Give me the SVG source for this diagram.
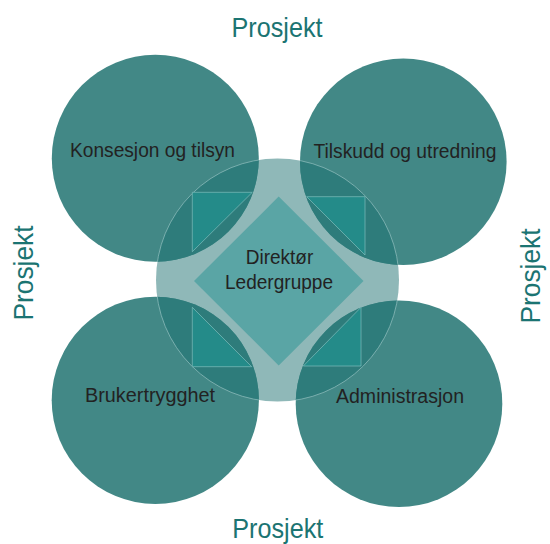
<svg xmlns="http://www.w3.org/2000/svg" width="550" height="544" viewBox="0 0 550 544">
  <style>
    .circle { fill: #428886; }
    .overlap { fill: #2e7c7b; }
    .hub { fill: #8fb8b8; }
    .hub-edge { fill: none; stroke: #a6cccc; stroke-width: 0.6; }
    .corner { fill: #248b89; stroke: #7fbdbb; stroke-width: 0.7; stroke-linejoin: miter; }
    .core { fill: #5aa5a5; }
    .label { font-family: "Liberation Sans", Arial, sans-serif; font-size: 20px; fill: #222222; text-anchor: middle; }
    .project { font-family: "Liberation Sans", Arial, sans-serif; font-size: 28px; fill: #1b7472; text-anchor: middle; }
  </style>
  <defs>
    <clipPath id="hubClip">
      <circle cx="277.5" cy="280" r="121.5"/>
    </clipPath>
    <!-- union of the four unit circles, so the hub rim only shows inside the lenses -->
    <clipPath id="unitClip">
      <circle cx="155.3" cy="158.3" r="103.5"/>
      <circle cx="403.3" cy="161.7" r="103.3"/>
      <circle cx="155.3" cy="400.3" r="103.6"/>
      <circle cx="399" cy="403.7" r="103.3"/>
    </clipPath>
  </defs>

  <rect width="550" height="544" fill="#ffffff"/>

  <!-- central hub disc -->
  <g id="hub">
    <circle class="hub" cx="277.5" cy="280" r="121.5"/>
  </g>

  <!-- four unit circles -->
  <g id="konsesjon">
    <circle class="circle" cx="155.3" cy="158.3" r="103.5"/>
  </g>
  <g id="tilskudd">
    <circle class="circle" cx="403.3" cy="161.7" r="103.3"/>
  </g>
  <g id="brukertrygghet">
    <circle class="circle" cx="155.3" cy="400.3" r="103.6"/>
  </g>
  <g id="administrasjon">
    <circle class="circle" cx="399" cy="403.7" r="103.3"/>
  </g>

  <!-- darker lens where each unit meets the hub -->
  <g id="overlaps" clip-path="url(#hubClip)">
    <circle class="overlap" cx="155.3" cy="158.3" r="103.5"/>
    <circle class="overlap" cx="403.3" cy="161.7" r="103.3"/>
    <circle class="overlap" cx="155.3" cy="400.3" r="103.6"/>
    <circle class="overlap" cx="399" cy="403.7" r="103.3"/>
  </g>
  <g clip-path="url(#unitClip)">
    <circle class="hub-edge" cx="277.5" cy="280" r="121.5"/>
  </g>

  <!-- corner triangles inside the lenses -->
  <g id="corners">
    <polygon class="corner" points="192.3,192.3 252.3,192.3 192.3,251.7"/>
    <polygon class="corner" points="306.7,196.7 365,196.7 365,255"/>
    <polygon class="corner" points="192.3,307.3 192.3,366.7 251.7,366.7"/>
    <polygon class="corner" points="361,307.3 361,366 303.3,366"/>
  </g>

  <!-- management core -->
  <g id="ledelse">
    <polygon class="core" points="278.7,196.5 363.5,281 278.7,365.5 194,281"/>
    <text class="label" x="279.5" y="264" textLength="67.6" lengthAdjust="spacingAndGlyphs">Direktør</text>
    <text class="label" x="279" y="289.3" textLength="108" lengthAdjust="spacingAndGlyphs">Ledergruppe</text>
  </g>

  <!-- unit labels -->
  <g id="labels">
    <text class="label" x="152.5" y="157.3" textLength="165" lengthAdjust="spacingAndGlyphs">Konsesjon og tilsyn</text>
    <text class="label" x="405" y="158.3" textLength="183" lengthAdjust="spacingAndGlyphs">Tilskudd og utredning</text>
    <text class="label" x="150" y="401.7" textLength="130" lengthAdjust="spacingAndGlyphs">Brukertrygghet</text>
    <text class="label" x="400" y="403.3" textLength="128" lengthAdjust="spacingAndGlyphs">Administrasjon</text>
  </g>

  <!-- project labels on all four sides -->
  <g id="prosjekt">
    <text class="project" x="277" y="36.7" textLength="91" lengthAdjust="spacingAndGlyphs">Prosjekt</text>
    <text class="project" x="277.8" y="538.3" textLength="91" lengthAdjust="spacingAndGlyphs">Prosjekt</text>
    <text class="project" transform="translate(33.3,273) rotate(-90)" textLength="95" lengthAdjust="spacingAndGlyphs">Prosjekt</text>
    <text class="project" transform="translate(540,276) rotate(-90)" textLength="95" lengthAdjust="spacingAndGlyphs">Prosjekt</text>
  </g>
</svg>
